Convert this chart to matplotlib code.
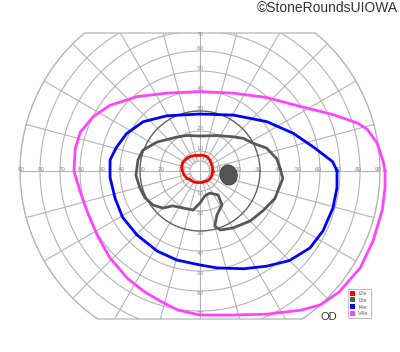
import numpy as np
import matplotlib
matplotlib.use('Agg')
import matplotlib.pyplot as plt
from matplotlib.patches import Ellipse, Polygon, Patch

# ---------------- data (meridian in degrees, eccentricity in degrees) ----------------
i2e_meridians = [357, 13, 27, 48, 64, 81, 97, 108, 120, 132, 144, 155, 167, 180, 194, 210,
                 220, 241, 262, 280, 296, 310, 323, 336]
i2e_ecc       = [6.5, 6.4, 6.7, 7.4, 8.0, 8.0, 7.8, 8.2, 8.6, 9.0, 9.3, 9.6, 9.4, 8.8, 8.2,
                 7.5, 6.6, 6.3, 5.9, 5.8, 5.8, 6.2, 6.3, 6.3]

i3e_meridians = [2, 9, 19, 27.5, 37, 46, 64, 90, 110, 124, 146, 160, 170, 184, 196, 206,
                 216, 225, 232, 245, 260, 270, 281, 294, 307, 303, 291, 285, 289, 300,
                 315, 328, 340, 355]
i3e_ecc       = [40, 38.9, 35.2, 30, 27.1, 23.8, 19.7, 17.5, 18.9, 20.5, 25.9, 30.4, 31.5,
                 32.1, 31.2, 30.6, 29, 26.2, 22.1, 20.4, 19.8, 16, 12.7, 12.1, 15, 20.2,
                 23.6, 28.5, 31.2, 32.9, 35.4, 37.3, 39.9, 41.6]

i4e_meridians = [0, 4, 12, 22, 36.5, 59, 90, 121, 139, 153, 164, 173, 184, 198, 211, 225.5,
                 242, 255.5, 270, 280, 294, 305, 315, 325, 334, 344.5, 353]
i4e_ecc       = [68.5, 66.5, 57.9, 50.3, 41.5, 32.6, 28.5, 32.2, 37.6, 41.2, 43.4, 45.3,
                 45.1, 44.6, 45.1, 44.9, 45.4, 46, 47, 49.2, 53.5, 58.1, 63.3, 67.1, 68.4,
                 69, 69]

v4e_meridians = [0, 3, 9, 14, 17, 23, 33, 48, 67, 90, 113, 130, 144, 153, 162, 170, 180,
                 190, 200, 212, 224, 236, 245, 253, 261, 270, 283, 295, 306, 312, 319, 329,
                 338, 348, 355]
v4e_ecc       = [92.5, 91.7, 89.6, 86.2, 82.2, 72.2, 59.4, 49.5, 42.3, 39.7, 42.3, 48.6,
                 55.8, 59.9, 62.9, 63.4, 63, 60.8, 59.9, 60.6, 62.6, 64.8, 66.4, 68, 70.4,
                 72, 73.9, 79, 86, 90, 92.2, 93.6, 93.3, 93.2, 92.9]

blind_spot_center = (14.3, -2.0)
blind_spot_size = (8.5, 10.0)

isopter_names = ['I2e', 'I3e', 'I4e', 'V4e']
isopter_colors = ['#ff0000', '#585858', '#0000ff', '#ff44ff']

ring_values = [10, 20, 30, 40, 50, 60, 70, 80, 90]
h_labels = [10, 20, 30, 40, 50, 60, 70, 80, 90]
v_labels = [10, 20, 30, 40, 50, 60, 70]
meridian_step = 15

# ---------------- figure ----------------
fig = plt.figure(figsize=(4, 3.52), dpi=100)
ax = fig.add_axes([0, 0, 1, 1])
ax.set_xlim(-100, 100)
ax.set_ylim(-90.5, 85.5)
ax.set_aspect('equal')
ax.axis('off')

RMAX, TOP, BOTTOM = 90, 69, -74
grid_c = '#b4b4b4'

t = np.linspace(0, 2 * np.pi, 1441)
bx = RMAX * np.cos(t)
by = np.clip(RMAX * np.sin(t), BOTTOM, TOP)
clip = Polygon(np.column_stack([bx, by]), closed=True, facecolor='none',
               edgecolor=grid_c, lw=0.9, transform=ax.transData, zorder=1)
ax.add_patch(clip)

for r in [5] + ring_values:
    c = '#606060' if r == 30 else grid_c
    lw = 1.0 if r == 30 else 0.8
    line, = ax.plot(r * np.cos(t), r * np.sin(t), color=c, lw=lw, zorder=1.5 if r == 30 else 1)
    line.set_clip_path(clip)

for a in range(0, 360, meridian_step):
    ar = np.deg2rad(a)
    r0 = 0 if a % 90 == 0 else 5
    line, = ax.plot([r0 * np.cos(ar), RMAX * np.cos(ar)], [r0 * np.sin(ar), RMAX * np.sin(ar)],
                    color=grid_c, lw=0.8, zorder=1)
    line.set_clip_path(clip)

lab_kw = dict(fontsize=4, color='#8a8a8a', ha='center', va='center', zorder=2)
for v in h_labels:
    ax.text(-v + 0.8, 0.6, str(v), **lab_kw)
    ax.text(v - 0.8, 0.6, str(v), **lab_kw)
for v in v_labels:
    ax.text(0, min(v + 1.0, TOP - 0.6), str(v), **lab_kw)
    ax.text(0, -v - 1.2, str(v), **lab_kw)

# blind spot
ax.add_patch(Ellipse(blind_spot_center, blind_spot_size[0], blind_spot_size[1], angle=10,
                     facecolor='#555555', edgecolor='#444444', lw=0.8, zorder=3))

# isopters
series = [(i2e_meridians, i2e_ecc), (i3e_meridians, i3e_ecc),
          (i4e_meridians, i4e_ecc), (v4e_meridians, v4e_ecc)]
for (mer, ecc), col in zip(series, isopter_colors):
    m = np.deg2rad(np.array(mer + mer[:1], dtype=float))
    e = np.array(ecc + ecc[:1], dtype=float)
    ax.plot(e * np.cos(m), e * np.sin(m), color=col, lw=2.0, solid_joinstyle='round',
            zorder=4)

ax.text(64.5, -73, 'OD', fontsize=8, color='#333333', ha='center', va='center',
        family='Liberation Sans')

handles = [Patch(facecolor=c, edgecolor='none') for c in isopter_colors]
leg = fig.legend(handles, isopter_names, loc='lower left', bbox_to_anchor=(0.862, 0.088),
                 fontsize=4, handlelength=1.0, handleheight=1.0, handletextpad=0.6,
                 labelspacing=0.25, borderpad=0.35, frameon=True, fancybox=False,
                 edgecolor='#b0b0b0', labelcolor='#666666')
leg.get_frame().set_linewidth(0.8)

fig.text(0.995, 0.977, '\u00a9StoneRoundsUIOWA', ha='right', va='center', fontsize=10,
         color='#333333', family='Liberation Sans')

fig.savefig('out.png', dpi=100)
